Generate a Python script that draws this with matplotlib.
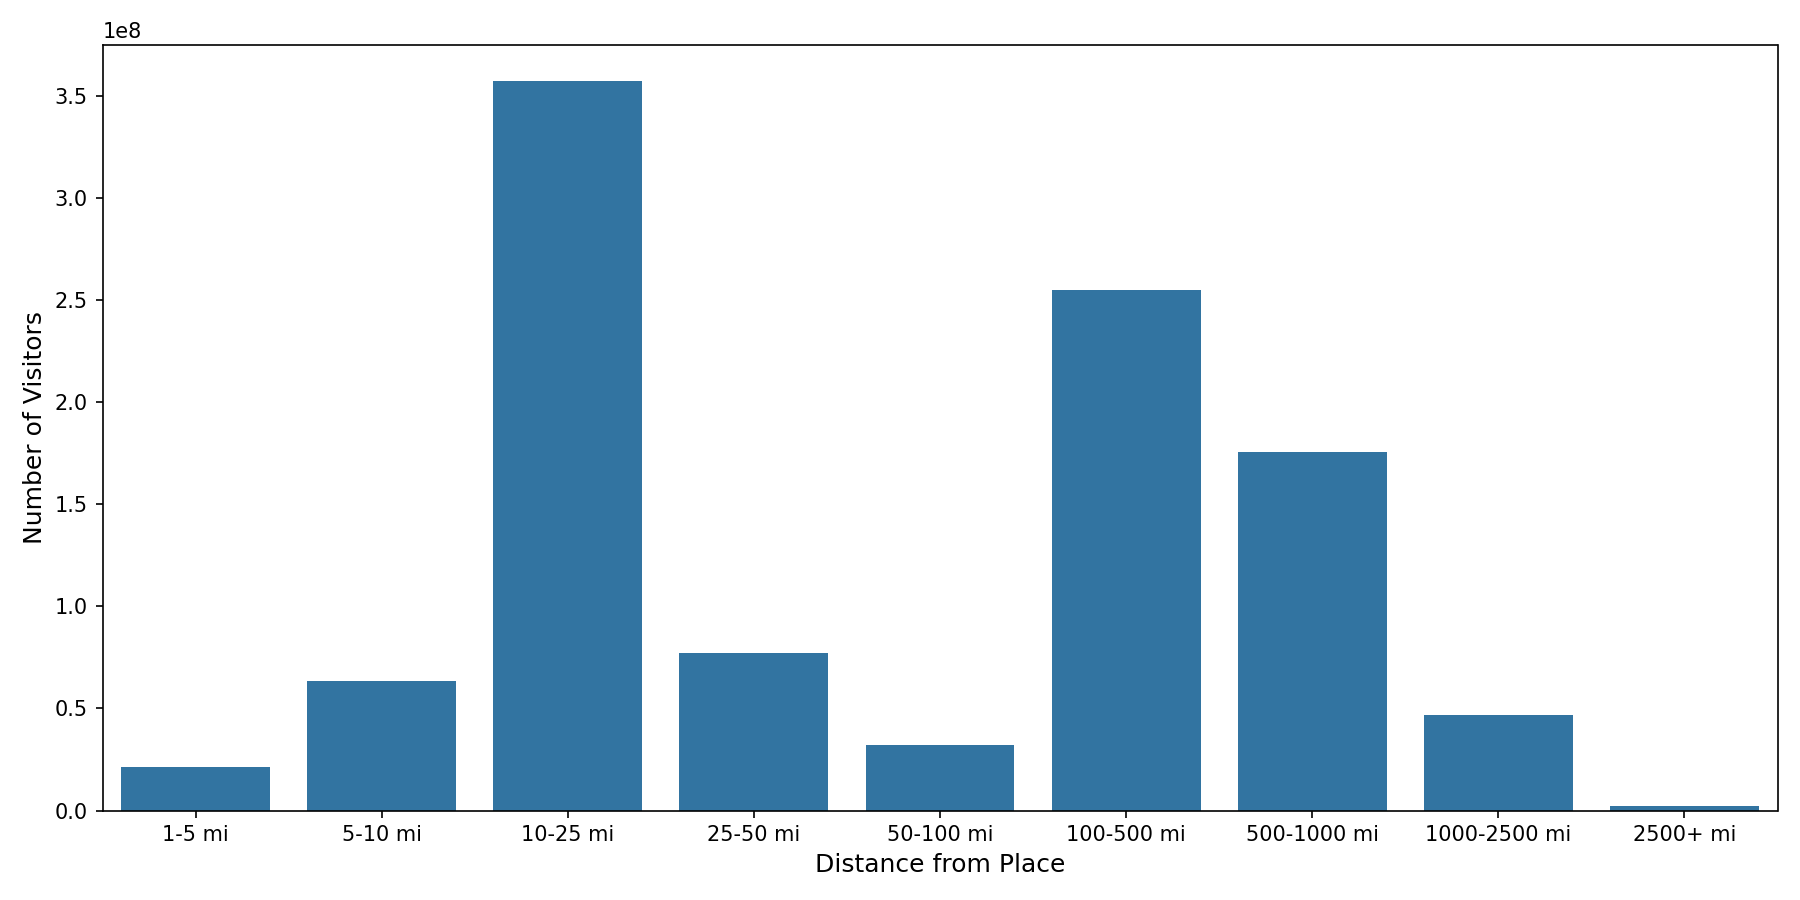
import matplotlib
matplotlib.use("Agg")
import matplotlib.pyplot as plt

categories = ["1-5 mi", "5-10 mi", "10-25 mi", "25-50 mi", "50-100 mi",
              "100-500 mi", "500-1000 mi", "1000-2500 mi", "2500+ mi"]
visitors = [0.215e8, 0.634e8, 3.573e8, 0.770e8, 0.323e8,
            2.548e8, 1.755e8, 0.470e8, 0.023e8]

fig, ax = plt.subplots(figsize=(12, 6), dpi=150)
x = range(len(categories))
ax.bar(x, visitors, width=0.8, color="#3274a1")
ax.set_xticks(list(x))
ax.set_xticklabels(categories)
ax.set_xlim(-0.5, len(categories) - 0.5)
ax.set_ylim(0, 3.75e8)
ax.set_xlabel("Distance from Place", fontsize=12)
ax.set_ylabel("Number of Visitors", fontsize=12)
fig.tight_layout()
fig.savefig("out.png")
